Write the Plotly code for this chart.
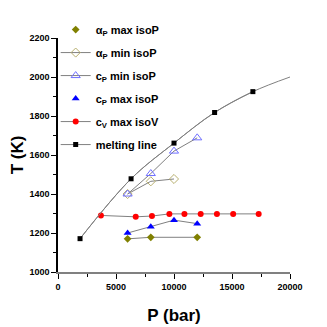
import plotly.graph_objects as go

# alpha_P maximum along isobars
alpha_max_p = [6000, 8000, 12000]
alpha_max_t = [1170, 1178, 1178]

# alpha_P minimum along isobars
alpha_min_p = [6000, 8000, 10000]
alpha_min_t = [1400, 1465, 1477]

# c_P minimum along isobars
cp_min_p = [6000, 8000, 10000, 12000]
cp_min_t = [1400, 1505, 1620, 1688]

# c_P maximum along isobars
cp_max_p = [6000, 8000, 10000, 12000]
cp_max_t = [1200, 1232, 1266, 1248]

# c_V maximum along isochores
cv_max_p = [3700, 6700, 8100, 9600, 10900, 12300, 13700, 15100, 17300]
cv_max_t = [1290, 1283, 1287, 1298, 1298, 1298, 1298, 1298, 1298]

# melting line points and fitted curve
melt_p = [1900, 6300, 10000, 13500, 16800]
melt_t = [1171, 1478, 1661, 1818, 1925]
melt_fit_p = [1900, 6300, 10000, 13500, 16800, 20000]
melt_fit_t = [1171, 1478, 1661, 1818, 1925, 2000]

FONT = "Liberation Sans Narrow, Arial Narrow, Liberation Sans, Arial"
GREY = "#808080"

fig = go.Figure()

# connecting lines without legend entry
fig.add_trace(go.Scatter(x=alpha_max_p, y=alpha_max_t, mode="lines",
                         line=dict(color=GREY, width=1), showlegend=False, hoverinfo="skip"))
fig.add_trace(go.Scatter(x=cp_max_p, y=cp_max_t, mode="lines",
                         line=dict(color=GREY, width=1), showlegend=False, hoverinfo="skip"))
fig.add_trace(go.Scatter(x=melt_fit_p, y=melt_fit_t, mode="lines",
                         line=dict(color=GREY, width=1, shape="spline"), showlegend=False, hoverinfo="skip"))

fig.add_trace(go.Scatter(x=alpha_max_p, y=alpha_max_t, mode="markers", name="α<sub>P</sub> max isoP",
                         legendgroup="a", marker=dict(symbol="diamond", size=6, color="#808000")))
fig.add_trace(go.Scatter(x=alpha_min_p, y=alpha_min_t, mode="lines+markers", name="α<sub>P</sub> min isoP",
                         legendgroup="b", line=dict(color=GREY, width=1),
                         marker=dict(symbol="diamond-open", size=7, color="#b8b070")))
fig.add_trace(go.Scatter(x=cp_min_p, y=cp_min_t, mode="lines+markers", name="c<sub>P</sub> min isoP",
                         legendgroup="c", line=dict(color=GREY, width=1),
                         marker=dict(symbol="triangle-up-open", size=8, color="#7070ff")))
fig.add_trace(go.Scatter(x=cp_max_p, y=cp_max_t, mode="markers", name="c<sub>P</sub> max isoP",
                         legendgroup="d", marker=dict(symbol="triangle-up", size=7, color="#0000ff")))
fig.add_trace(go.Scatter(x=cv_max_p, y=cv_max_t, mode="lines+markers", name="c<sub>V</sub> max isoV",
                         legendgroup="e", line=dict(color=GREY, width=1),
                         marker=dict(symbol="circle", size=6, color="#ff0000")))
fig.add_trace(go.Scatter(x=melt_p, y=melt_t, mode="lines+markers", name="melting line",
                         legendgroup="f", line=dict(color=GREY, width=1, shape="spline"),
                         marker=dict(symbol="square", size=5, color="#000000")))

# page body adds an 8px offset, so the figure is 319px and margins are shifted
fig.update_layout(
    width=319, height=319,
    margin=dict(l=50, r=37, t=30, b=55, autoexpand=False),
    paper_bgcolor="white", plot_bgcolor="white",
    font=dict(family=FONT, color="black"),
    legend=dict(x=-0.01, y=1.098, xanchor="left", yanchor="top", traceorder="grouped",
                bgcolor="rgba(0,0,0,0)", font=dict(size=11, family=FONT, weight="bold"),
                tracegroupgap=4, itemwidth=30),
)

fig.update_xaxes(
    range=[0, 20000], showgrid=False, zeroline=False,
    showline=True, linecolor=GREY, linewidth=2,
    ticks="outside", ticklen=5, tickcolor="black", tickwidth=1,
    tickvals=[0, 5000, 10000, 15000, 20000], tickformat="d",
    tickfont=dict(size=9, family=FONT, weight="bold"),
    minor=dict(ticks="outside", ticklen=3, tickcolor="black", dtick=2500, tick0=0),
    title=dict(text="P (bar)", font=dict(size=17, family=FONT, weight="bold"), standoff=18),
)
fig.update_yaxes(
    range=[1000, 2200], showgrid=False, zeroline=False,
    showline=True, linecolor="black", linewidth=1.5,
    ticks="outside", ticklen=5, tickcolor="black", tickwidth=1,
    dtick=200,
    tickfont=dict(size=9, family=FONT, weight="bold"),
    minor=dict(ticks="outside", ticklen=3, tickcolor="black", dtick=100),
    title=dict(text="T (K)", font=dict(size=17, family=FONT, weight="bold"), standoff=8),
)

fig.write_html("out.html")
